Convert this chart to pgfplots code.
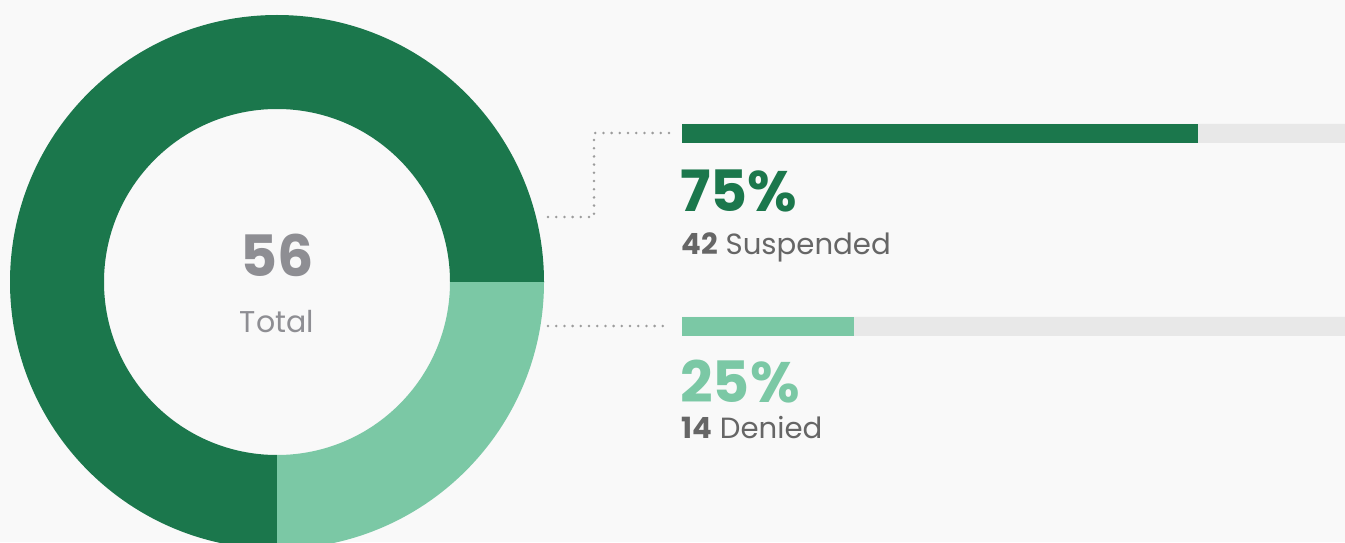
\documentclass[border=0pt]{standalone}
\usepackage{pgfplots}
\pgfplotsset{compat=1.18}
\usepackage{fontspec}
\setmainfont{Poppins}
\definecolor{verde}{HTML}{1B774C}
\definecolor{menta}{HTML}{7BC8A5}
\definecolor{pista}{HTML}{E8E8E8}
\definecolor{fondo}{HTML}{F9F9F9}
\definecolor{tinta}{HTML}{666666}
\definecolor{gris}{HTML}{8E8E93}
\definecolor{punto}{HTML}{9C9C9C}
% counts
\pgfmathsetmacro{\nsus}{42}
\pgfmathsetmacro{\nden}{14}
\pgfmathsetmacro{\asus}{360*\nsus/(\nsus+\nden)}
\tikzset{guia/.style={punto,line width=1.4pt,line cap=round,dash pattern=on 0pt off 4.1pt}}
\begin{document}
% picture units: 1 = one pixel of the reference, y measured upward from the bottom
\begin{tikzpicture}[x=0.5pt,y=0.5pt]
\fill[fondo] (0,0) rectangle (1345,542);
% donut on a pixel canvas
\begin{axis}[at={(0pt,0pt)},anchor=south west,width=672.5pt,height=271pt,scale only axis,hide axis,
xmin=0,xmax=1345,ymin=0,ymax=542]
\fill[verde] (axis cs:277,260) ++(0:267) arc[start angle=0,end angle=\asus,radius=267]
 -- ++(\asus:-94) arc[start angle=\asus,end angle=0,radius=173] -- cycle;
\fill[menta] (axis cs:277,260) ++(\asus:267) arc[start angle=\asus,end angle=360,radius=267]
 -- ++(0:-94) arc[start angle=360,end angle=\asus,radius=173] -- cycle;
\end{axis}
% progress bars (0-100 %)
\begin{axis}[at={(341pt,0pt)},anchor=south west,width=331.5pt,height=271pt,scale only axis,hide axis,
xmin=0,xmax=96.37,ymin=0,ymax=542,xbar,bar width=9.5pt,bar shift=0pt]
\addplot[fill=pista,draw=none] coordinates {(100,408.5) (100,215.5)};
\addplot[fill=verde,draw=none] coordinates {(75,408.5)};
\addplot[fill=menta,draw=none] coordinates {(25,215.5)};
\end{axis}
\draw[guia] (548,325) -- (594,325) -- (594,409) -- (670,409);
\draw[guia] (548,216) -- (670,216);
\node[anchor=base,inner sep=0,text=gris,font=\fontsize{28.5}{30}\selectfont\bfseries] at (277,265) {56};
\node[anchor=base,inner sep=0,text=gris,font=\fontsize{15}{17}\selectfont] at (277,210) {Total};
\node[anchor=base west,inner sep=0,text=verde,font=\fontsize{28.5}{30}\selectfont\bfseries] at (680,330) {75\%};
\node[anchor=base west,inner sep=0,text=tinta,font=\fontsize{14.6}{16}\selectfont] at (681,288) {\textbf{42} Suspended};
\node[anchor=base west,inner sep=0,text=menta,font=\fontsize{28.5}{30}\selectfont\bfseries] at (680,140) {25\%};
\node[anchor=base west,inner sep=0,text=tinta,font=\fontsize{14.6}{16}\selectfont] at (681,104) {\textbf{14} Denied};
\pgfresetboundingbox
\path[use as bounding box] (0,0) rectangle (1345,542);
\end{tikzpicture}
\end{document}
